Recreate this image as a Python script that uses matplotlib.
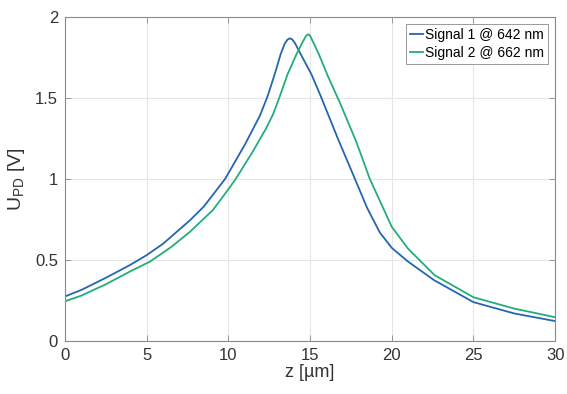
import matplotlib
matplotlib.use("Agg")
import matplotlib.pyplot as plt

# Signal 1 @ 642 nm
z1 = [0, 1, 2.5, 4, 5, 6, 7.65, 8.5, 9.8, 11, 11.93, 12.4, 12.85, 13.2, 13.45,
      13.62, 13.76, 13.9, 14.07, 14.43, 15.09, 15.66, 16.1, 16.7, 17.75, 18.5,
      19.27, 20, 21, 22.6, 25, 27.5, 30]
u1 = [0.275, 0.315, 0.39, 0.47, 0.53, 0.60, 0.745, 0.83, 1.00, 1.21, 1.39,
      1.51, 1.65, 1.77, 1.835, 1.86, 1.868, 1.862, 1.84, 1.77, 1.645, 1.51,
      1.40, 1.25, 1.00, 0.82, 0.67, 0.575, 0.49, 0.375, 0.24, 0.17, 0.123]

# Signal 2 @ 662 nm
z2 = [0, 1, 2.5, 4, 5.2, 6.5, 7.65, 9.07, 10.1, 10.45, 11.5, 12.3, 12.74,
      13.15, 13.62, 14.17, 14.52, 14.75, 14.88, 15.0, 15.19, 15.54, 16.07,
      16.83, 17.83, 18.66, 20, 21, 22.63, 25, 27.5, 30]
u2 = [0.245, 0.28, 0.35, 0.43, 0.49, 0.58, 0.674, 0.81, 0.95, 1.00, 1.17,
      1.31, 1.40, 1.51, 1.645, 1.77, 1.84, 1.882, 1.893, 1.885, 1.845, 1.77,
      1.64, 1.47, 1.23, 1.00, 0.705, 0.57, 0.406, 0.27, 0.20, 0.147]

labels = ["Signal 1 @ 642 nm", "Signal 2 @ 662 nm"]
xticks = [0, 5, 10, 15, 20, 25, 30]
yticks = [0, 0.5, 1, 1.5, 2]
yticklabels = ["0", "0.5", "1", "1.5", "2"]

plt.rcParams['font.family'] = ['Liberation Sans', 'DejaVu Sans']

fig = plt.figure(figsize=(5.67, 3.94), dpi=100)
ax = fig.add_axes([0.1146, 0.1345, 0.979 - 0.1146, 0.957 - 0.1345])

ax.plot(z1, u1, color='#2466b0', lw=1.3, label=labels[0])
ax.plot(z2, u2, color='#22ad7c', lw=1.3, label=labels[1])

ax.set_xlim(0, 30)
ax.set_ylim(0, 2)
ax.set_xticks(xticks)
ax.set_yticks(yticks)
ax.set_yticklabels(yticklabels)
ax.grid(True, color='#e6e6e6', lw=0.8)
ax.set_axisbelow(True)
for s in ax.spines.values():
    s.set_color('#8a8a8a')
    s.set_linewidth(0.8)
ax.tick_params(direction='in', top=True, right=True, length=4, width=0.6,
               color='#8a8a8a', labelsize=12, labelcolor='#333333', pad=5)

ax.set_xlabel("z [µm]", fontsize=13, color='#333333', labelpad=1)
ax.set_ylabel("U$_\\mathregular{PD}$ [V]", fontsize=14, color='#333333', labelpad=6)

leg = ax.legend(loc='upper right', fontsize=10, handlelength=0.9,
                handletextpad=0.15, borderpad=0.3, labelspacing=0.25,
                fancybox=False, framealpha=1, borderaxespad=0.5)
leg.get_frame().set_edgecolor('#9a9a9a')
leg.get_frame().set_linewidth(0.7)

fig.savefig("out.png", dpi=100)
